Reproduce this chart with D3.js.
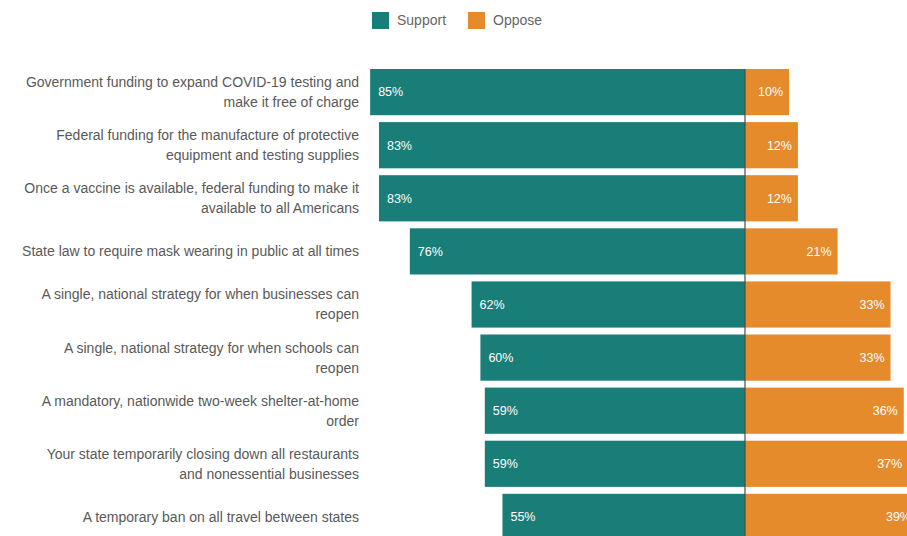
<!DOCTYPE html>
<html>
<head>
<meta charset="utf-8">
<script src="https://cdn.jsdelivr.net/npm/d3@7"></script>
<style>
  body { margin: 0; background: #fff; font-family: "Liberation Sans", Arial, sans-serif; }
</style>
</head>
<body>
<div id="my_chart"></div>
<script>
// data
var categories = [
  "Government funding to expand COVID-19 testing and\nmake it free of charge",
  "Federal funding for the manufacture of protective\nequipment and testing supplies",
  "Once a vaccine is available, federal funding to make it\navailable to all Americans",
  "State law to require mask wearing in public at all times",
  "A single, national strategy for when businesses can\nreopen",
  "A single, national strategy for when schools can\nreopen",
  "A mandatory, nationwide two-week shelter-at-home\norder",
  "Your state temporarily closing down all restaurants\nand nonessential businesses",
  "A temporary ban on all travel between states"
];
var support = [85, 83, 83, 76, 62, 60, 59, 59, 55];
var oppose  = [10, 12, 12, 21, 33, 33, 36, 37, 39];
var seriesNames = ["Support", "Oppose"];
var colors = ["#1a7e78", "#e68b2c"];

var width = 907, height = 536, center = 745;

var svg = d3.select("#my_chart")
  .append("svg")
    .attr("width", width)
    .attr("height", height);

// scales
var x = d3.scaleLinear()
  .domain([0, 100])
  .range([0, 441]);

var y = d3.scaleBand()
  .domain(categories)
  .range([69, 540])
  .paddingInner(0.13)
  .paddingOuter(0);

var rows = categories.map(function(c, i) {
  return {cat: c, support: support[i], oppose: oppose[i]};
});

// support bars
svg.selectAll(".sup")
  .data(rows)
  .enter()
  .append("rect")
    .attr("x", function(d) { return center - x(d.support); })
    .attr("y", function(d) { return y(d.cat); })
    .attr("width", function(d) { return x(d.support); })
    .attr("height", y.bandwidth())
    .attr("fill", colors[0]);

// oppose bars
svg.selectAll(".opp")
  .data(rows)
  .enter()
  .append("rect")
    .attr("x", center)
    .attr("y", function(d) { return y(d.cat); })
    .attr("width", function(d) { return x(d.oppose); })
    .attr("height", y.bandwidth())
    .attr("fill", colors[1]);

// value labels
svg.selectAll(".supLab")
  .data(rows)
  .enter()
  .append("text")
    .attr("x", function(d) { return center - x(d.support) + 8; })
    .attr("y", function(d) { return y(d.cat) + y.bandwidth() / 2; })
    .attr("dy", "0.35em")
    .attr("fill", "#fff")
    .style("font-size", "12.5px")
    .text(function(d) { return d.support + "%"; });

svg.selectAll(".oppLab")
  .data(rows)
  .enter()
  .append("text")
    .attr("x", function(d) { return center + x(d.oppose) - 6; })
    .attr("y", function(d) { return y(d.cat) + y.bandwidth() / 2; })
    .attr("dy", "0.35em")
    .attr("text-anchor", "end")
    .attr("fill", "#fff")
    .style("font-size", "12.5px")
    .text(function(d) { return d.oppose + "%"; });

// center line
svg.append("line")
  .attr("x1", center).attr("x2", center)
  .attr("y1", y.range()[0]).attr("y2", height)
  .attr("stroke", "#4a4a4a")
  .attr("stroke-width", 1.2);

// category labels
var labels = svg.selectAll(".catLab")
  .data(rows)
  .enter()
  .append("text")
    .attr("text-anchor", "end")
    .attr("fill", "#595959")
    .style("font-size", "14px");

labels.each(function(d) {
  var lines = d.cat.split("\n");
  var cy = y(d.cat) + y.bandwidth() / 2;
  var lh = 20;
  var t = d3.select(this);
  lines.forEach(function(l, i) {
    t.append("tspan")
      .attr("x", 359)
      .attr("y", cy + (i - (lines.length - 1) / 2) * lh)
      .attr("dy", "0.35em")
      .text(l);
  });
});

// legend
var legendX = [372, 468];
var legend = svg.selectAll(".leg")
  .data(seriesNames)
  .enter()
  .append("g")
    .attr("transform", function(d, i) { return "translate(" + legendX[i] + ",12)"; });

legend.append("rect")
  .attr("width", 17)
  .attr("height", 17)
  .attr("fill", function(d, i) { return colors[i]; });

legend.append("text")
  .attr("x", 25)
  .attr("y", 8.5)
  .attr("dy", "0.35em")
  .attr("fill", "#666")
  .style("font-size", "14px")
  .text(function(d) { return d; });
</script>
</body>
</html>
